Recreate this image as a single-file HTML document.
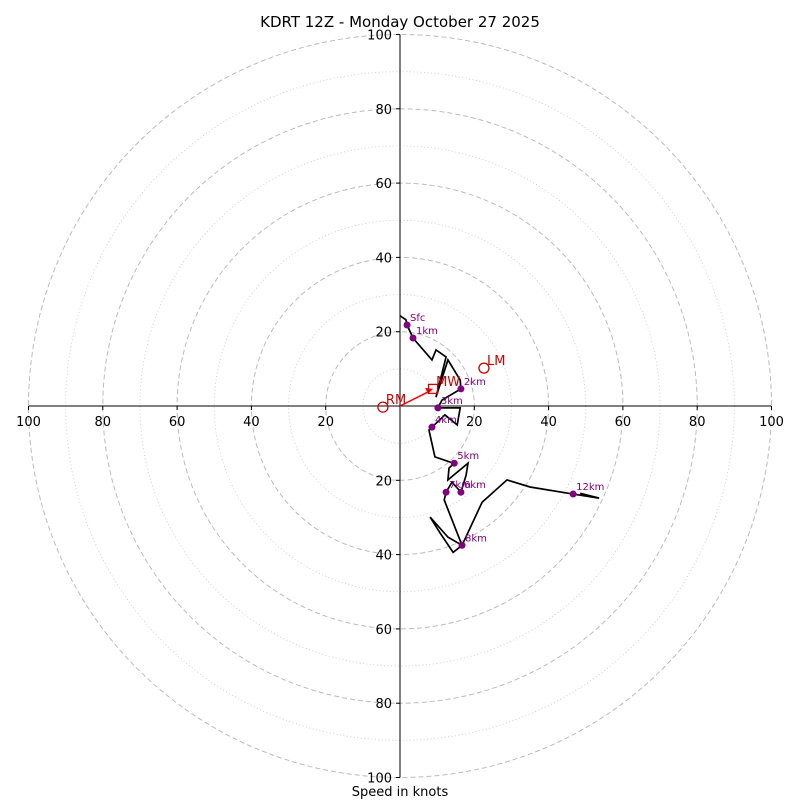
<!DOCTYPE html>
<html><head><meta charset="utf-8"><style>
body{margin:0;background:#fff}
svg{display:block;font-family:"DejaVu Sans","Liberation Sans",sans-serif}
</style></head><body>
<svg id="chart" width="800" height="800">
<text x="400" y="27" text-anchor="middle" font-size="15">KDRT 12Z - Monday October 27 2025</text>
<text x="400" y="796" text-anchor="middle" font-size="13">Speed in knots</text>
<g id="rings"></g><g id="axes"></g><g id="trace"></g><g id="marks"></g>
</svg>
<script>
const ringValues=[10,20,30,40,50,60,70,80,90,100];
const tickLabels=[20,40,60,80,100];
const traceU=[0,1.6,1.9,3.5,8.6,9.7,12.4,9.7,12.9,16.2,16.4,11.3,10.2,16.2,15.4,12.1,8.6,7.8,9.4,13.5,14.6,13.2,12.9,18.3,17.8,16.4,14.0,12.4,11.9,16.7,14.3,10.8,8.1,12.9,16.7,22.1,28.8,35.0,46.6,53.6,48.5];
const traceV=[24.3,23.2,21.8,18.3,12.4,15.1,13.2,2.4,12.4,7.0,4.6,1.6,-0.5,-0.5,-5.1,-2.4,-5.7,-6.5,-13.7,-15.1,-15.4,-16.7,-19.9,-15.4,-18.6,-23.2,-20.5,-23.2,-25.3,-37.5,-39.4,-34.2,-29.9,-35.3,-37.5,-25.9,-19.9,-21.8,-23.7,-24.8,-23.5];
const markerLabels=["Sfc","1km","2km","3km","4km","5km","6km","7km","8km","12km"];
const markerU=[1.9,3.5,16.4,10.2,8.6,14.6,16.4,12.4,16.7,46.6];
const markerV=[21.8,18.3,4.6,-0.5,-5.7,-15.4,-23.2,-23.2,-37.5,-23.7];
const motionLabels=["RM","LM","MW"];
const motionU=[-4.6,22.6,8.9];
const motionV=[-0.3,10.2,4.6];
const CX=400,CY=406,K=3.715;
const sx=u=>CX+u*K, sy=v=>CY-v*K;
const NS='http://www.w3.org/2000/svg';
function mk(tag,parent,attrs){const e=document.createElementNS(NS,tag);for(const k in attrs)e.setAttribute(k,attrs[k]);parent.appendChild(e);return e;}
const rings=document.getElementById('rings');
ringValues.forEach(r=>{const major=r%20===0;
const c=mk('circle',rings,{cx:CX,cy:CY,r:r*K,fill:'none',stroke:major?'#bbb':'#ccc','stroke-width':major?1:0.9,'stroke-dasharray':major?'5,3':'1,2.5'});

});
const axes=document.getElementById('axes');
let a=mk('line',axes,{x1:sx(-100),x2:sx(100),y1:CY,y2:CY,stroke:'#000','stroke-width':1});


a=mk('line',axes,{x1:CX,x2:CX,y1:sy(100),y2:sy(-100),stroke:'#000','stroke-width':1});


tickLabels.forEach(t=>{[-1,1].forEach(s=>{
 const x=sx(s*t);mk('line',axes,{x1:x,x2:x,y1:CY,y2:CY+4,stroke:'#000'});
 const tx=mk('text',axes,{x:x,y:CY+20,'text-anchor':'middle','font-size':13});tx.textContent=t;
 
 
 const y=sy(s*t);mk('line',axes,{x1:CX-4,x2:CX,y1:y,y2:y,stroke:'#000'});
 const ty=mk('text',axes,{x:CX-8,y:y+5,'text-anchor':'end','font-size':13});ty.textContent=t;
 
 
});});
const trace=document.getElementById('trace');
const pl=mk('polyline',trace,{points:traceU.map((u,i)=>sx(u)+','+sy(traceV[i])).join(' '),fill:'none',stroke:'#000','stroke-width':1.7,'stroke-linejoin':'miter'});


const marks=document.getElementById('marks');
markerLabels.forEach((l,i)=>{
 const c=mk('circle',marks,{cx:sx(markerU[i]),cy:sy(markerV[i]),r:3.5,fill:'#800080'});
 
 
 const t=mk('text',marks,{x:sx(markerU[i])+3,y:sy(markerV[i])-4,'font-size':10,fill:'#800080'});t.textContent=l;
 
 
});
// storm motion
const mwi=2;
const ar=mk('line',marks,{x1:CX,y1:CY,x2:sx(motionU[mwi])-3,y2:sy(motionV[mwi])+2,stroke:'red','stroke-width':1.5});


const ah=mk('polygon',marks,{points:[[sx(motionU[mwi]),sy(motionV[mwi])],[sx(motionU[mwi])-8,sy(motionV[mwi])-1],[sx(motionU[mwi])-5,sy(motionV[mwi])+5]].map(p=>p.join(',')).join(' '),fill:'red'});


motionLabels.forEach((l,i)=>{
 const x=sx(motionU[i]),y=sy(motionV[i]);
 let m;
 if(l==='MW') m=mk('rect',marks,{x:x-4.5,y:y-4.5,width:9,height:9,fill:'none',stroke:'#c00','stroke-width':1.3});
 else m=mk('circle',marks,{cx:x,cy:y,r:5,fill:'none',stroke:'#c00','stroke-width':1.3});
 
 
 const t=mk('text',marks,{x:x+3,y:y-3,'font-size':13,fill:'#c00'});t.textContent=l;
 
 
});
</script>
</body></html>
